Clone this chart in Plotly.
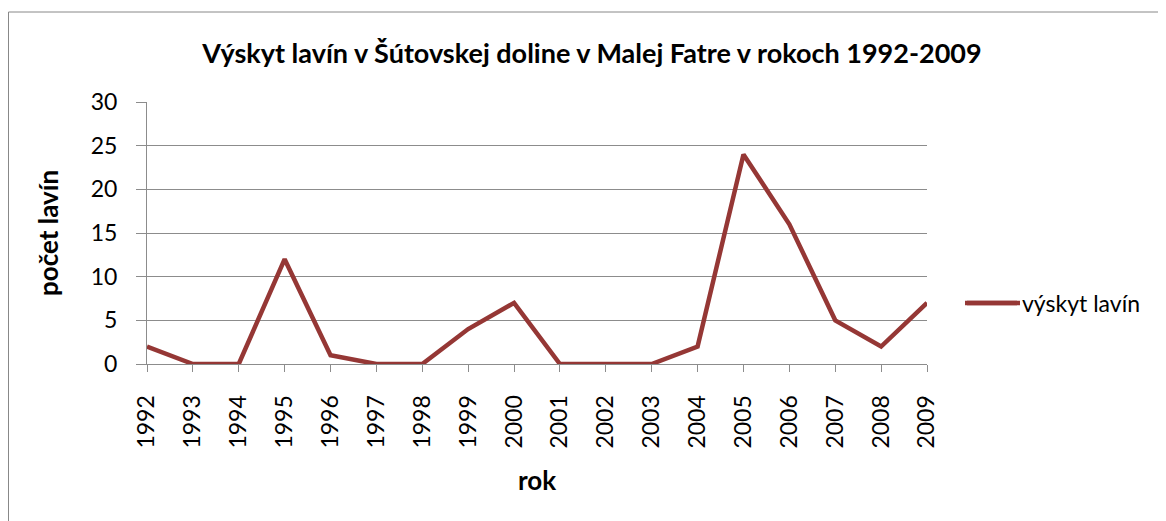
"""Výskyt lavín v Šútovskej doline - line chart."""

import plotly.graph_objects as go

# Data
years = [str(y) for y in range(1992, 2010)]
avalanches = [2, 0, 0, 12, 1, 0, 0, 4, 7, 0, 0, 0, 2, 24, 16, 5, 2, 7]

FONT = "Lato, Open Sans, sans-serif"
LINE_COLOR = "#953735"
GRID_COLOR = "#8c8c8c"

# page body has an 8px margin, so the figure is offset by 8px
W, H = 1158, 513
L, R, T, B = 139, 239, 94, 157
PW, PH = W - L - R, H - T - B
BOTTOM = H - B  # plot bottom in figure pixels


def px_x(x):
    return (x - L) / PW


def px_y(y):
    return (BOTTOM - y) / PH


fig = go.Figure()

fig.add_trace(
    go.Scatter(
        x=years,
        y=avalanches,
        mode="lines",
        name="výskyt lavín",
        line=dict(color=LINE_COLOR, width=4.5),
    )
)

# Outer chart border
fig.add_shape(
    type="rect",
    xref="paper",
    yref="paper",
    x0=px_x(0.5),
    x1=px_x(W + 20),
    y0=px_y(H + 20),
    y1=px_y(4),
    line=dict(color="#888888", width=1),
    layer="below",
)

# Longer legend line sample, as in the original
fig.add_shape(
    type="line",
    xref="paper",
    yref="paper",
    x0=px_x(959),
    x1=px_x(1012),
    y0=px_y(295),
    y1=px_y(295),
    line=dict(color=LINE_COLOR, width=4.5),
)

fig.update_layout(
    width=W,
    height=H,
    margin=dict(l=L, r=R, t=T, b=B),
    paper_bgcolor="white",
    plot_bgcolor="white",
    font=dict(family=FONT, color="black", size=23),
    title=dict(
        text="<b>Výskyt lavín v Šútovskej doline v Malej Fatre v rokoch 1992-2009</b>",
        x=584 / W,
        xanchor="center",
        y=1 - 46 / H,
        yanchor="middle",
        font=dict(size=27, family=FONT),
    ),
    showlegend=True,
    legend=dict(
        x=px_x(952),
        y=px_y(295),
        xanchor="left",
        yanchor="middle",
        itemwidth=52,
        font=dict(size=23),
        bgcolor="rgba(0,0,0,0)",
    ),
    xaxis=dict(
        type="category",
        range=[0, len(years) - 1],
        tickangle=-90,
        ticks="outside",
        ticklen=7,
        tickcolor=GRID_COLOR,
        ticklabelstandoff=14,
        showline=True,
        linecolor=GRID_COLOR,
        showgrid=False,
        title=dict(text="<b>rok</b>", font=dict(size=26), standoff=24),
        tickfont=dict(size=23),
    ),
    yaxis=dict(
        range=[0, 30],
        dtick=5,
        ticks="outside",
        ticklen=10,
        tickcolor=GRID_COLOR,
        ticklabelstandoff=14,
        showline=True,
        linecolor=GRID_COLOR,
        gridcolor=GRID_COLOR,
        zeroline=False,
        title=dict(text="<b>počet lavín</b>", font=dict(size=26), standoff=24),
        tickfont=dict(size=23),
    ),
)

fig.write_html("out.html")
